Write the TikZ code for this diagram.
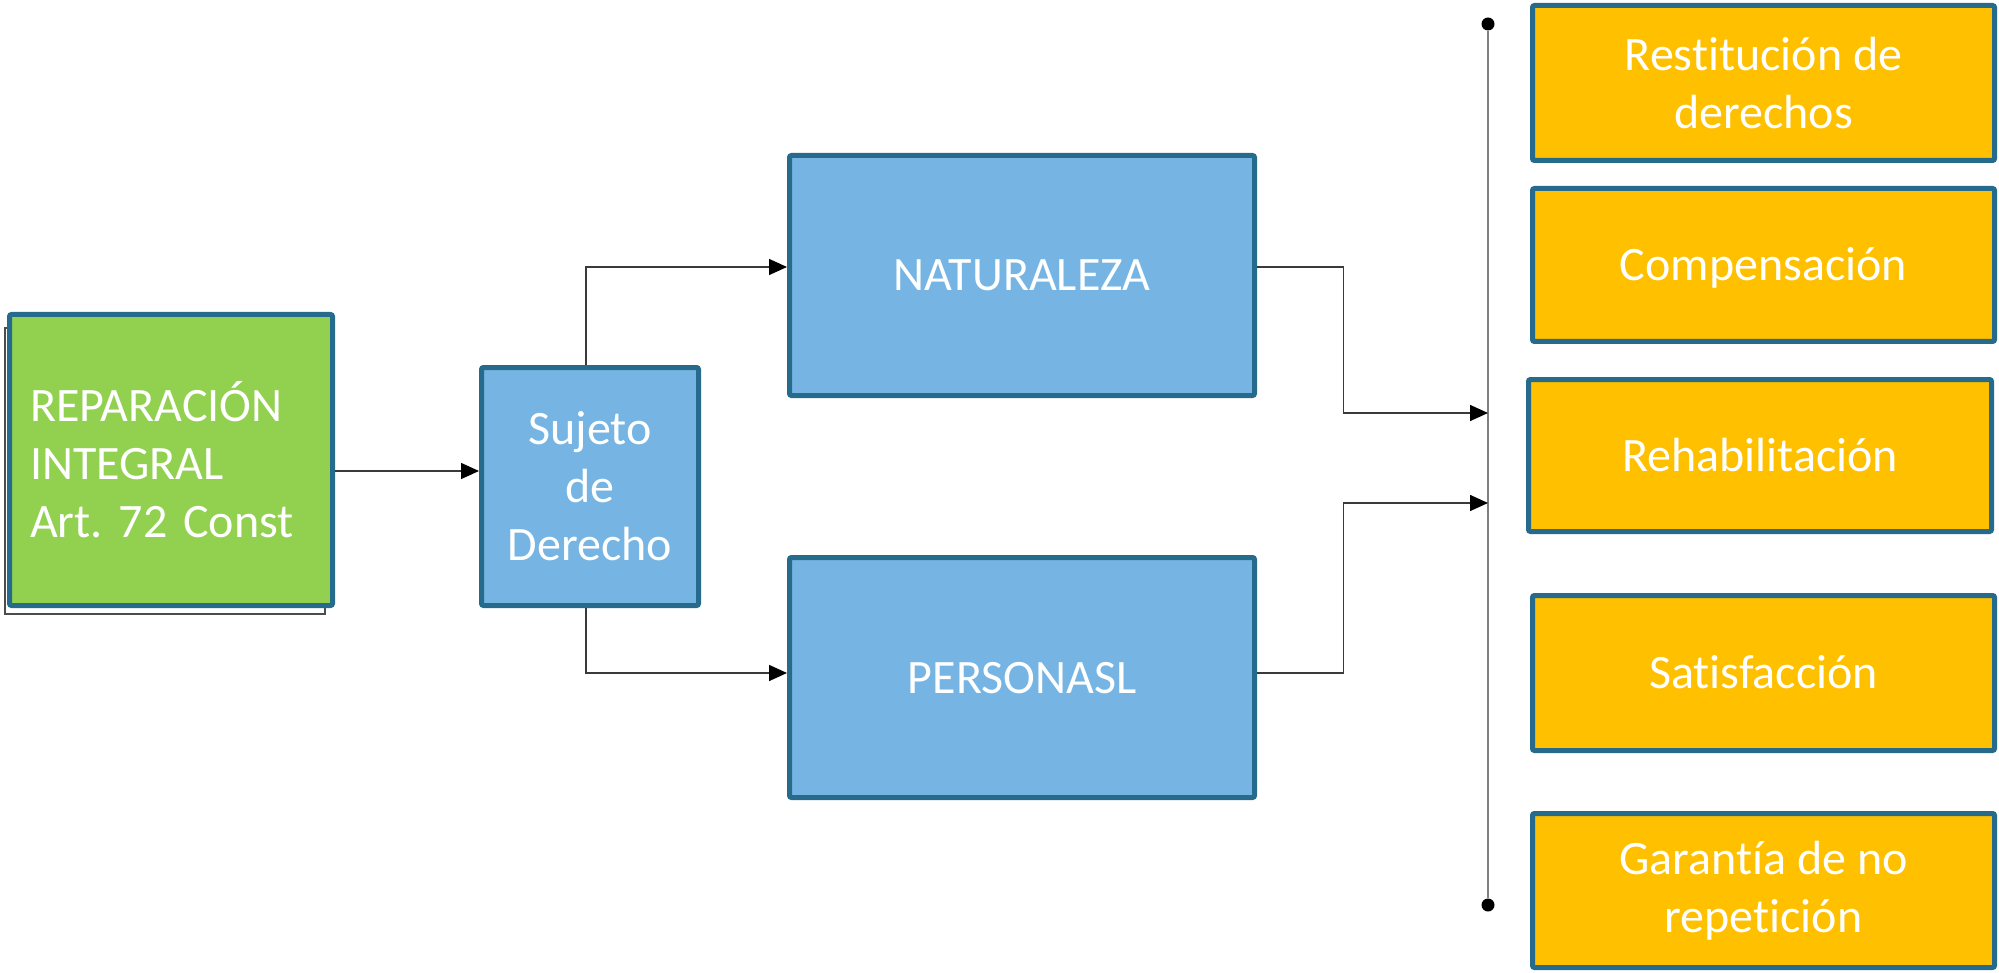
\documentclass[tikz,border=0pt]{standalone}
\usepackage{fontspec}
\setmainfont{Carlito}[Ligatures=NoCommon]
\usetikzlibrary{arrows.meta}
\definecolor{edgeblue}{HTML}{266B8B}
\definecolor{greenfill}{HTML}{92D050}
\definecolor{bluefill}{HTML}{76B5E3}
\definecolor{orangefill}{HTML}{FFC000}
\definecolor{connc}{HTML}{3A3A3A}
\definecolor{vlinec}{HTML}{808080}
\frenchspacing
\begin{document}
\begin{tikzpicture}[x=1pt,y=-1pt,
  box/.style={draw=edgeblue, line width=5pt, rounded corners=2pt, inner sep=0pt,
    text=white, font=\fontsize{48}{58}\selectfont},
  multi/.style={align=center},
  one/.style={text height=31pt, text depth=0pt},
  gbox/.style={box, fill=greenfill},
  bbox/.style={box, fill=bluefill},
  obox/.style={box, fill=orangefill, minimum width=462pt},
  conn/.style={draw=connc, line width=1.5pt},
  arr/.style={conn, -{Triangle[length=18pt,width=16pt,color=black,fill=black]}},
  vline/.style={draw=vlinec, line width=2pt},
  dot/.style={circle, fill=black, minimum size=13pt, inner sep=0pt}]
\useasboundingbox (0,0) rectangle (1999,973);
\fill[white] (0,0) rectangle (1999,973);

% shadow frame behind the green box
\node[draw=black!70, line width=1.5pt, minimum width=320pt, minimum height=286pt, inner sep=0pt] (shadow) at (165,471) {};

% main boxes
\node[gbox, minimum width=323pt, minimum height=291pt, text width=282pt, align=left] (rep) at (171,460)
  {REPARACIÓN\\INTEGRAL\\Art. 72 Const};
\node[bbox, multi, minimum width=217pt, minimum height=238pt] (sj) at (590,486.5) {Sujeto\\de\\Derecho};
\node[bbox, one, minimum width=465pt, minimum height=240pt] (nat) at (1022,275.5) {NATURALEZA};
\node[bbox, one, minimum width=465pt, minimum height=240pt] (per) at (1022,677.5) {PERSONASL};

% right column
\node[obox, multi, minimum height=155pt] (r1) at (1763.5,83) {Restitución de\\derechos};
\node[obox, one, minimum height=153pt] (r2) at (1763.5,265) {Compensación};
\node[obox, one, minimum height=152pt, minimum width=463pt] (r3) at (1760,455.5) {Rehabilitación};
\node[obox, one, minimum height=155pt] (r4) at (1763.5,673) {Satisfacción};
\node[obox, multi, minimum height=154pt] (r5) at (1763.5,890.5) {Garantía de no\\repetición};

% vertical collector line
\node[dot] (dtop) at (1488,24) {};
\node[dot] (dbot) at (1488,905) {};
\draw[vline] (dtop) -- (dbot);
\coordinate (a1) at (1488,413);
\coordinate (a2) at (1488,503);

% connectors
\draw[arr] ([yshift=-11pt]rep.east) -- ([yshift=-11pt]rep.east -| sj.west);
\draw[arr] ([xshift=-4pt]sj.north) |- ([yshift=8.5pt]nat.west);
\draw[arr] ([xshift=-4pt]sj.south) |- ([yshift=4.5pt]per.west);
\draw[arr] ([yshift=8.5pt]nat.east) -- ++(86.5,0) |- (a1);
\draw[arr] ([yshift=4.5pt]per.east) -- ++(86.5,0) |- (a2);
\end{tikzpicture}
\end{document}
